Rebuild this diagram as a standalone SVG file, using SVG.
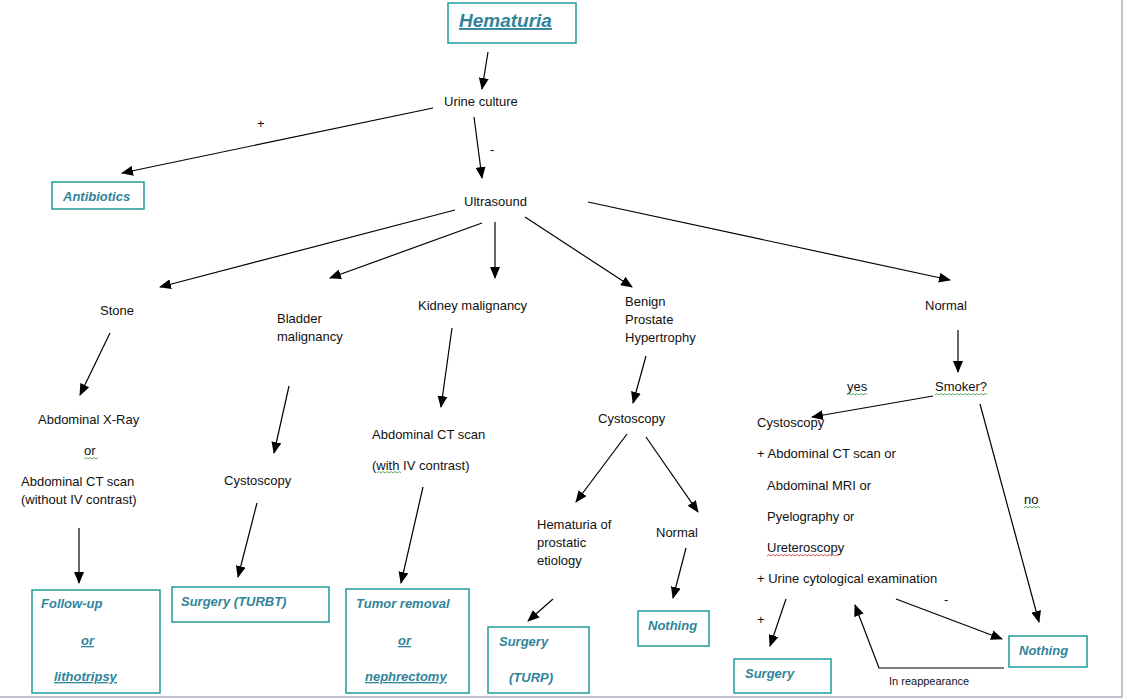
<svg xmlns="http://www.w3.org/2000/svg" width="1123" height="699" viewBox="0 0 1123 699">
<defs>
<marker id="ah" markerUnits="userSpaceOnUse" markerWidth="12" markerHeight="10" refX="11" refY="5" orient="auto">
<path d="M0,0 L12,5 L0,10 Z" fill="#000"/>
</marker>
<style>
.t{font-family:"Liberation Sans",Arial,sans-serif;font-size:13px;fill:#111}
.s{font-size:11px}
.b{font-family:"Liberation Sans",Arial,sans-serif;font-size:13px;font-weight:bold;font-style:italic;fill:#31849B}
.u{text-decoration:underline}
.box{fill:#fff;stroke:#1f9a98;stroke-width:1.5}
.c{stroke:#000;stroke-width:1.2;fill:none}
.c1{marker-end:url(#ah)}
.sq{fill:none;stroke:#3a9a3a;stroke-width:0.8}
.sqr{fill:none;stroke:#d03030;stroke-width:0.8}
</style>
</defs>
<rect width="1123" height="699" fill="#fff"/>
<path d="M1122,0 V697 H0" fill="none" stroke="#a9b0bd" stroke-width="1.5"/>

<g id="connectors">
<line class="c c1" x1="488" y1="52" x2="482" y2="89"/>
<line class="c c1" x1="433" y1="108" x2="122" y2="173"/>
<line class="c c1" x1="474" y1="117" x2="482" y2="178"/>
<line class="c c1" x1="455" y1="210" x2="160" y2="287"/>
<line class="c c1" x1="482" y1="223" x2="330" y2="278"/>
<line class="c c1" x1="495" y1="222" x2="495" y2="278"/>
<line class="c c1" x1="525" y1="217" x2="632" y2="287"/>
<line class="c c1" x1="588" y1="202" x2="950" y2="280"/>
<line class="c c1" x1="110" y1="333" x2="80" y2="395"/>
<line class="c c1" x1="289" y1="386" x2="274" y2="453"/>
<line class="c c1" x1="452" y1="328" x2="441" y2="407"/>
<line class="c c1" x1="646" y1="356" x2="633" y2="403"/>
<line class="c c1" x1="958" y1="330" x2="958" y2="372"/>
<line class="c c1" x1="79" y1="528" x2="79" y2="583"/>
<line class="c c1" x1="257" y1="503" x2="238" y2="577"/>
<line class="c c1" x1="423" y1="487" x2="401" y2="583"/>
<line class="c c1" x1="627" y1="434" x2="576" y2="502"/>
<line class="c c1" x1="646" y1="437" x2="698" y2="512"/>
<line class="c c1" x1="553" y1="599" x2="528" y2="621"/>
<line class="c c1" x1="686" y1="548" x2="673" y2="598"/>
<line class="c c1" x1="933" y1="396" x2="812" y2="417"/>
<line class="c c1" x1="980" y1="404" x2="1039" y2="622"/>
<line class="c c1" x1="786" y1="599" x2="770" y2="646"/>
<line class="c c1" x1="896" y1="599" x2="1002" y2="639"/>
<polyline class="c c1" points="1004,668 879,668 855,605"/>
<text class="t" x="257" y="128">+</text>
<text class="t" x="490" y="154">-</text>
<text class="t" x="847" y="391">yes</text>
<text class="t" x="1024" y="504">no</text>
<text class="t" x="757" y="624">+</text>
<text class="t" x="944" y="604">-</text>
<text class="t s" x="889" y="685">In reappearance</text>
<path class="sq" d="M847,395 l2,-1.5 l2,1.5 l2,-1.5 l2,1.5 l2,-1.5 l2,1.5 l2,-1.5 l2,1.5 l2,-1.5 l2,1.5"/>
<path class="sq" d="M1024,508 l2,-1.5 l2,1.5 l2,-1.5 l2,1.5 l2,-1.5 l2,1.5 l2,-1.5 l2,1.5"/>
</g>

<g id="hematuria">
<rect class="box" x="448" y="3" width="128" height="40"/>
<text class="b u" x="459" y="27" style="font-size:19px">Hematuria</text>
</g>
<g id="urine-culture"><text class="t" x="444" y="106">Urine culture</text></g>
<g id="antibiotics">
<rect class="box" x="52" y="182" width="92" height="27"/>
<text class="b" x="63" y="201">Antibiotics</text>
</g>
<g id="ultrasound"><text class="t" x="464" y="206">Ultrasound</text></g>
<g id="stone"><text class="t" x="100" y="315">Stone</text></g>
<g id="bladder"><text class="t" x="277" y="323">Bladder</text><text class="t" x="277" y="341">malignancy</text></g>
<g id="kidney"><text class="t" x="418" y="310">Kidney malignancy</text></g>
<g id="bph"><text class="t" x="625" y="306">Benign</text><text class="t" x="625" y="324">Prostate</text><text class="t" x="625" y="342">Hypertrophy</text></g>
<g id="normal"><text class="t" x="925" y="310">Normal</text></g>

<g id="stone-imaging">
<text class="t" x="38" y="424">Abdominal X-Ray</text>
<text class="t" x="84" y="455">or</text>
<path class="sq" d="M84,459 l2,-1.5 l2,1.5 l2,-1.5 l2,1.5 l2,-1.5 l2,1.5 l2,-1.5"/>
<text class="t" x="21" y="486">Abdominal CT scan</text>
<text class="t" x="21" y="504">(without IV contrast)</text>
</g>
<g id="followup">
<rect class="box" x="32" y="590" width="128" height="103"/>
<text class="b" x="41" y="608">Follow-up</text>
<text class="b u" x="81" y="645">or</text>
<text class="b u" x="54" y="681">lithotripsy</text>
</g>
<g id="bladder-cysto"><text class="t" x="224" y="485">Cystoscopy</text></g>
<g id="turbt">
<rect class="box" x="172" y="587" width="157" height="35"/>
<text class="b" x="181" y="606">Surgery (TURBT)</text>
</g>
<g id="kidney-ct">
<text class="t" x="372" y="439">Abdominal CT scan</text>
<text class="t" x="372" y="470">(with IV contrast)</text>
<path class="sq" d="M377,473 l2,-1.5 l2,1.5 l2,-1.5 l2,1.5 l2,-1.5 l2,1.5 l2,-1.5 l2,1.5 l2,-1.5 l2,1.5 l2,-1.5 l2,1.5"/>
</g>
<g id="tumor">
<rect class="box" x="346" y="589" width="123" height="104"/>
<text class="b" x="356" y="608">Tumor removal</text>
<text class="b u" x="398" y="645">or</text>
<text class="b u" x="365" y="681">nephrectomy</text>
</g>
<g id="bph-cysto"><text class="t" x="598" y="423">Cystoscopy</text></g>
<g id="prostatic"><text class="t" x="537" y="529">Hematuria of</text><text class="t" x="537" y="547">prostatic</text><text class="t" x="537" y="565">etiology</text></g>
<g id="bph-normal"><text class="t" x="656" y="537">Normal</text></g>
<g id="turp">
<rect class="box" x="488" y="627" width="101" height="66"/>
<text class="b" x="499" y="646">Surgery</text>
<text class="b" x="509" y="682">(TURP)</text>
</g>
<g id="nothing1">
<rect class="box" x="638" y="611" width="71" height="35"/>
<text class="b" x="648" y="630">Nothing</text>
</g>
<g id="smoker">
<text class="t" x="935" y="391">Smoker?</text>
<path class="sq" d="M935,395 l2,-1.5 l2,1.5 l2,-1.5 l2,1.5 l2,-1.5 l2,1.5 l2,-1.5 l2,1.5 l2,-1.5 l2,1.5 l2,-1.5 l2,1.5 l2,-1.5 l2,1.5 l2,-1.5 l2,1.5 l2,-1.5 l2,1.5 l2,-1.5 l2,1.5 l2,-1.5 l2,1.5 l2,-1.5 l2,1.5 l2,-1.5 l2,1.5"/>
</g>
<g id="workup">
<text class="t" x="757" y="427">Cystoscopy</text>
<text class="t" x="757" y="458">+ Abdominal CT scan or</text>
<text class="t" x="767" y="490">Abdominal MRI or</text>
<text class="t" x="767" y="521">Pyelography or</text>
<text class="t" x="767" y="552">Ureteroscopy</text>
<path class="sqr" d="M767,556 l2,-1.5 l2,1.5 l2,-1.5 l2,1.5 l2,-1.5 l2,1.5 l2,-1.5 l2,1.5 l2,-1.5 l2,1.5 l2,-1.5 l2,1.5 l2,-1.5 l2,1.5 l2,-1.5 l2,1.5 l2,-1.5 l2,1.5 l2,-1.5 l2,1.5 l2,-1.5 l2,1.5 l2,-1.5 l2,1.5 l2,-1.5 l2,1.5 l2,-1.5 l2,1.5 l2,-1.5 l2,1.5 l2,-1.5 l2,1.5 l2,-1.5 l2,1.5 l2,-1.5 l2,1.5"/>
<text class="t" x="757" y="583">+ Urine cytological examination</text>
</g>
<g id="nothing2">
<rect class="box" x="1009" y="636" width="78" height="31"/>
<text class="b" x="1019" y="655">Nothing</text>
</g>
<g id="surgery">
<rect class="box" x="734" y="659" width="97" height="34"/>
<text class="b" x="745" y="678">Surgery</text>
</g>
</svg>
